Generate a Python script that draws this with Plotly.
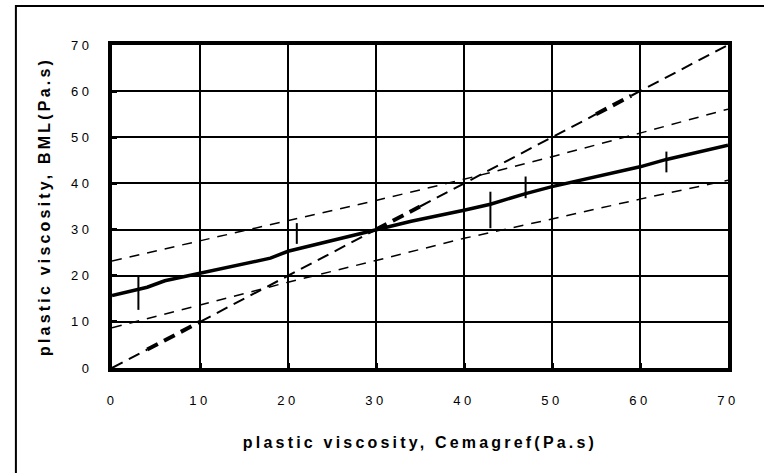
import plotly.graph_objects as go

# values
band_x = [0, 10, 20, 30, 40, 50, 60, 70]
upper_band = [23.2, 27.6, 31.9, 36.3, 40.9, 45.8, 50.9, 56.1]
lower_band = [8.7, 13.7, 18.6, 23.3, 28.1, 32.3, 36.6, 40.7]

fit_x = [0, 4, 6, 10, 18, 20, 30, 34, 40, 43, 47, 50, 60, 63, 70]
fit_y = [15.7, 17.5, 18.9, 20.5, 23.8, 25.3, 29.9, 31.8, 34.2, 35.5, 37.8, 39.3, 43.6, 45.2, 48.3]

# y = x reference line, broken where the original rendering changes thickness
equal_x = [0, 4, 10, 30, 35, 55, 59, 70]

err_x = [3, 21, 43, 47, 63]
err_lo = [12.6, 26.9, 30.3, 36.8, 42.4]
err_hi = [19.8, 31.4, 38.2, 41.5, 46.9]

ticks = [0, 10, 20, 30, 40, 50, 60, 70]

fig = go.Figure()

for ys in (upper_band, lower_band):
    fig.add_trace(go.Scatter(x=band_x, y=ys, mode="lines",
                             line=dict(color="black", width=1.5, dash="10px,8px")))

widths = [2, 4, 2, 4, 2, 4, 2]
for i in range(len(equal_x) - 1):
    seg = equal_x[i:i + 2]
    fig.add_trace(go.Scatter(x=seg, y=seg, mode="lines",
                             line=dict(color="black", width=widths[i], dash="12px,7px")))

fig.add_trace(go.Scatter(x=fit_x, y=fit_y, mode="lines",
                         line=dict(color="black", width=3.5)))

ex, ey = [], []
for x, lo, hi in zip(err_x, err_lo, err_hi):
    ex += [x, x, None]
    ey += [lo, hi, None]
fig.add_trace(go.Scatter(x=ex, y=ey, mode="lines",
                         line=dict(color="black", width=2)))

axis_common = dict(
    range=[0, 70], tickvals=ticks, showgrid=True, gridcolor="black", gridwidth=2,
    showline=True, linecolor="black", linewidth=4, mirror=True,
    ticks="inside", ticklen=5, tickwidth=3, tickcolor="black",
    zeroline=False, tickfont=dict(family="Liberation Sans, Arial", size=13, color="black"),
)
title_font = dict(family="Liberation Sans, Arial", size=16, color="black", weight="bold")

fig.update_xaxes(**axis_common, ticklabelstandoff=17,
                 title=dict(text="plastic viscosity, Cemagref(Pa.s)", standoff=31, font=title_font))
fig.update_yaxes(**axis_common, ticklabelstandoff=13,
                 title=dict(text="plastic viscosity, BML(Pa.s)", standoff=24, font=title_font))

# outer frame (only left and top edges fall inside the picture)
fig.add_shape(type="rect", xref="paper", yref="paper", x0=-0.156, x1=1.5, y0=-1, y1=1.121,
              line=dict(color="black", width=2), layer="above")

fig.update_layout(
    width=764, height=473, autosize=False, showlegend=False,
    margin=dict(l=112, r=36, t=45, b=105),
    paper_bgcolor="white", plot_bgcolor="white",
)

css = """
var st = document.createElement('style');
st.innerHTML = 'body {margin: 0; overflow: hidden;} .xtitle, .ytitle {letter-spacing: 3.2px;} .xtick text, .ytick text {letter-spacing: 3.5px;}';
document.head.appendChild(st);
"""

fig.write_html("out.html", post_script=css, config={"displayModeBar": False})
